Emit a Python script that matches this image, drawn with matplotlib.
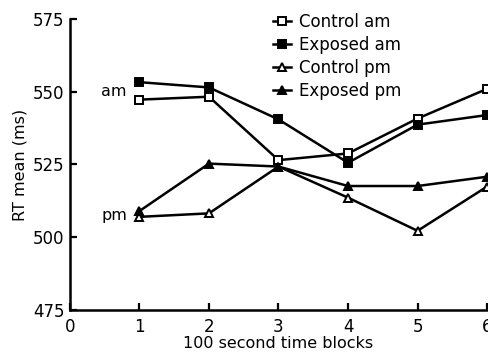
import numpy as np
import matplotlib
matplotlib.use('Agg')
import matplotlib.pyplot as plt

# data
blocks = [1, 2, 3, 4, 5, 6]
control_am = [547.3, 548.3, 526.5, 528.8, 540.8, 551.0]
exposed_am = [553.3, 551.5, 540.5, 525.6, 538.7, 542.0]
control_pm = [507.0, 508.2, 524.3, 513.6, 502.2, 517.4]
exposed_pm = [509.0, 525.3, 524.3, 517.6, 517.6, 520.8]

x_ticks = [0, 1, 2, 3, 4, 5, 6]
y_ticks = [475, 500, 525, 550, 575]

plt.rcParams['font.family'] = ['DejaVu Sans']

fig = plt.figure(figsize=(4.89, 3.53), dpi=100)
ax = fig.add_axes([0.143, 0.122, 0.853, 0.824])

kw = dict(color='black', linewidth=1.8, markeredgewidth=1.4)
ax.plot(blocks, control_am, marker='s', markersize=6, markerfacecolor='white',
        label='Control am', **kw)
ax.plot(blocks, exposed_am, marker='s', markersize=6, markerfacecolor='black',
        label='Exposed am', **kw)
ax.plot(blocks, control_pm, marker='^', markersize=6, markerfacecolor='white',
        label='Control pm', **kw)
ax.plot(blocks, exposed_pm, marker='^', markersize=6, markerfacecolor='black',
        label='Exposed pm', **kw)

ax.text(0.82, 550, 'am', fontsize=11.5, ha='right', va='center')
ax.text(0.82, 507.5, 'pm', fontsize=11.5, ha='right', va='center')

ax.set_xlim(0, 6)
ax.set_ylim(475, 575)
ax.set_xticks(x_ticks)
ax.set_yticks(y_ticks)
ax.tick_params(direction='in', length=5, width=1.6, labelsize=12, pad=4)
ax.xaxis.set_tick_params(pad=6)
for s in ['top', 'right']:
    ax.spines[s].set_visible(False)
for s in ['left', 'bottom']:
    ax.spines[s].set_linewidth(1.8)

ax.set_xlabel('100 second time blocks', fontsize=11.5, labelpad=0)
ax.set_ylabel('RT mean (ms)', fontsize=11.5, labelpad=4)

leg = ax.legend(loc='upper left', bbox_to_anchor=(0.47, 1.045), frameon=False,
                fontsize=12, handlelength=1.1, handletextpad=0.5,
                labelspacing=0.3, borderaxespad=0)

fig.savefig('out.png', dpi=100)
